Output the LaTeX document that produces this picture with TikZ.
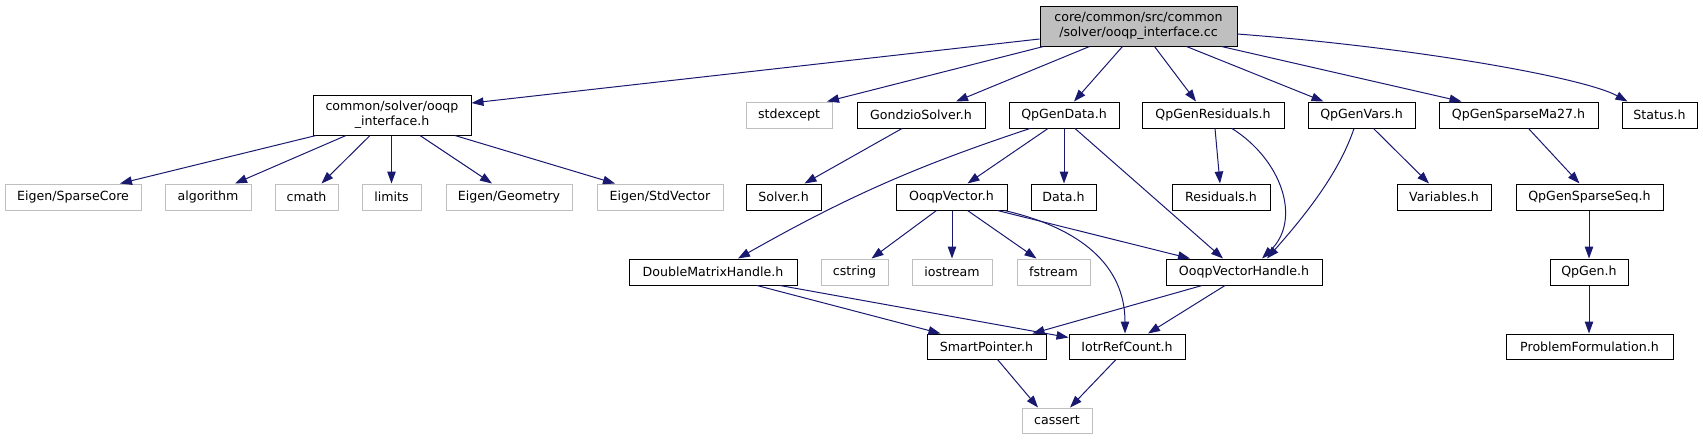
\documentclass[tikz,border=0pt]{standalone}
\usepackage{fontspec}
\setmainfont{DejaVu Sans}
\usetikzlibrary{arrows.meta}
\definecolor{edgeblue}{HTML}{191970}
\definecolor{extgrey}{HTML}{BFBFBF}
\begin{document}
\begin{tikzpicture}[x=1pt,y=-1pt,
  base/.style={rectangle,inner sep=0pt,line width=1pt,minimum height=26pt,font=\fontsize{12.6}{15}\selectfont,align=center},
  doc/.style={base,draw=black,fill=white},
  ext/.style={base,draw=extgrey,fill=white},
  mainbox/.style={base,draw=black,fill=extgrey,minimum height=40pt},
  link/.style={draw=edgeblue,line width=1pt,-{Triangle[length=12pt,width=8.5pt]}}
]
\useasboundingbox (0,0) rectangle (1703,440);
% row 0
\node[mainbox,minimum width=197pt] (main) at (1138.5,26) {core/common/src/common\\/solver/ooqp\_interface.cc};
% row 1
\node[doc,minimum width=158pt,minimum height=40pt] (iface) at (392,115) {common/solver/ooqp\\\_interface.h};
\node[ext,minimum width=86pt] (stdexcept) at (789,115) {stdexcept};
\node[doc,minimum width=128pt] (gondzio) at (921,115) {GondzioSolver.h};
\node[doc,minimum width=110pt] (qpgendata) at (1064,115) {QpGenData.h};
\node[doc,minimum width=142pt] (qpgenres) at (1213,115) {QpGenResiduals.h};
\node[doc,minimum width=107pt] (qpgenvars) at (1361.5,115) {QpGenVars.h};
\node[doc,minimum width=159pt] (ma27) at (1518.5,115) {QpGenSparseMa27.h};
\node[doc,minimum width=75pt] (status) at (1659.5,115) {Status.h};
% row 2
\node[ext,minimum width=136pt] (sparsecore) at (73,197) {Eigen/SparseCore};
\node[ext,minimum width=86pt] (algorithm) at (208,197) {algorithm};
\node[ext,minimum width=63pt] (cmath) at (306.5,197) {cmath};
\node[ext,minimum width=59pt] (limits) at (391.5,197) {limits};
\node[ext,minimum width=126pt] (geometry) at (509,197) {Eigen/Geometry};
\node[ext,minimum width=126pt] (stdvector) at (660,197) {Eigen/StdVector};
\node[doc,minimum width=75pt] (solver) at (783.5,197) {Solver.h};
\node[doc,minimum width=111pt] (ooqpvector) at (951.5,197) {OoqpVector.h};
\node[doc,minimum width=65pt] (data) at (1063.5,197) {Data.h};
\node[doc,minimum width=98pt] (residuals) at (1221,197) {Residuals.h};
\node[doc,minimum width=94pt] (variables) at (1444,197) {Variables.h};
\node[doc,minimum width=147pt] (sparseseq) at (1589.5,197) {QpGenSparseSeq.h};
% row 3
\node[doc,minimum width=168pt] (dmh) at (713,272) {DoubleMatrixHandle.h};
\node[ext,minimum width=67pt] (cstring) at (854.5,272) {cstring};
\node[ext,minimum width=80pt] (iostream) at (952,272) {iostream};
\node[ext,minimum width=73pt] (fstream) at (1053.5,272) {fstream};
\node[doc,minimum width=156pt] (ovh) at (1244,272) {OoqpVectorHandle.h};
\node[doc,minimum width=78pt] (qpgen) at (1589,272) {QpGen.h};
% row 4
\node[doc,minimum width=119pt,minimum height=25pt] (smartptr) at (986.5,346.5) {SmartPointer.h};
\node[doc,minimum width=116pt,minimum height=25pt] (iotr) at (1127,346.5) {IotrRefCount.h};
\node[doc,minimum width=167pt,minimum height=25pt] (probform) at (1589.5,346.5) {ProblemFormulation.h};
% row 5
\node[ext,minimum width=70pt,minimum height=25pt] (cassert) at (1057,420.5) {cassert};

% edges from main
\draw[link] ([yshift=-13pt]main.west) -- ([yshift=12pt]iface.east);
\draw[link] ([xshift=-95pt]main.south) -- ([xshift=38pt]stdexcept.north);
\draw[link] ([xshift=-49pt]main.south) -- ([xshift=35pt]gondzio.north);
\draw[link] ([xshift=-16pt]main.south) -- ([xshift=10pt]qpgendata.north);
\draw[link] ([xshift=16pt]main.south) -- ([xshift=-17pt]qpgenres.north);
\draw[link] ([xshift=48pt]main.south) -- ([xshift=-38pt]qpgenvars.north);
\draw[link] ([xshift=83pt]main.south) -- ([xshift=-57pt]ma27.north);
\draw[link] ([yshift=-8pt]main.east) .. controls (1420,48) and (1585,78) .. ([xshift=-32pt]status.north);
% edges from iface
\draw[link] ([xshift=-76pt]iface.south) -- ([xshift=47pt]sparsecore.north);
\draw[link] ([xshift=-46pt]iface.south) -- ([xshift=27pt]algorithm.north);
\draw[link] ([xshift=-22pt]iface.south) -- ([xshift=15pt]cmath.north);
\draw[link] ([xshift=-0.5pt]iface.south) -- (limits.north);
\draw[link] ([xshift=28pt]iface.south) -- ([xshift=-17pt]geometry.north);
\draw[link] ([xshift=63pt]iface.south) -- ([xshift=-45pt]stdvector.north);
% GondzioSolver
\draw[link] ([xshift=-19pt]gondzio.south) -- ([xshift=21pt]solver.north);
% QpGenData
\draw[link] ([xshift=-34pt]qpgendata.south) .. controls (920,165) and (850,195) .. ([xshift=25pt]dmh.north);
\draw[link] ([xshift=-16pt]qpgendata.south) -- ([xshift=16pt]ooqpvector.north);
\draw[link] (qpgendata.south) -- ([xshift=0.5pt]data.north);
\draw[link] ([xshift=11pt]qpgendata.south) -- ([xshift=-21pt]ovh.north);
% QpGenResiduals
\draw[link] ([xshift=2pt]qpgenres.south) -- ([xshift=-1pt]residuals.north);
\draw[link] ([xshift=19pt]qpgenres.south) .. controls (1282,160) and (1302,220) .. ([xshift=18pt]ovh.north);
% QpGenVars
\draw[link] ([xshift=-7.5pt]qpgenvars.south) .. controls (1340,170) and (1310,210) .. ([xshift=23pt]ovh.north);
\draw[link] ([xshift=12pt]qpgenvars.south) -- ([xshift=-15pt]variables.north);
% chain right
\draw[link] ([xshift=10pt]ma27.south) -- ([xshift=-10pt]sparseseq.north);
\draw[link] ([xshift=-0.5pt]sparseseq.south) -- (qpgen.north);
\draw[link] (qpgen.south) -- ([xshift=-0.5pt]probform.north);
% OoqpVector
\draw[link] ([xshift=-15pt]ooqpvector.south) -- ([xshift=17pt]cstring.north);
\draw[link] ([xshift=0.5pt]ooqpvector.south) -- (iostream.north);
\draw[link] ([xshift=16pt]ooqpvector.south) -- ([xshift=-17pt]fstream.north);
\draw[link] ([xshift=46pt]ooqpvector.south) -- ([xshift=-54pt]ovh.north);
\draw[link] ([xshift=53pt]ooqpvector.south) .. controls (1080,228) and (1125,265) .. ([xshift=-2pt]iotr.north);
% DoubleMatrixHandle
\draw[link] ([xshift=44pt]dmh.south) -- ([xshift=-46pt]smartptr.north);
\draw[link] ([xshift=67pt]dmh.south) -- ([yshift=9pt]iotr.west);
% OoqpVectorHandle
\draw[link] ([xshift=-42pt]ovh.south) -- ([xshift=46pt]smartptr.north);
\draw[link] ([xshift=-19pt]ovh.south) -- ([xshift=21pt]iotr.north);
% to cassert
\draw[link] ([xshift=11pt]smartptr.south) -- ([xshift=-19pt]cassert.north);
\draw[link] ([xshift=-11pt]iotr.south) -- ([xshift=13pt]cassert.north);
\end{tikzpicture}
\end{document}
